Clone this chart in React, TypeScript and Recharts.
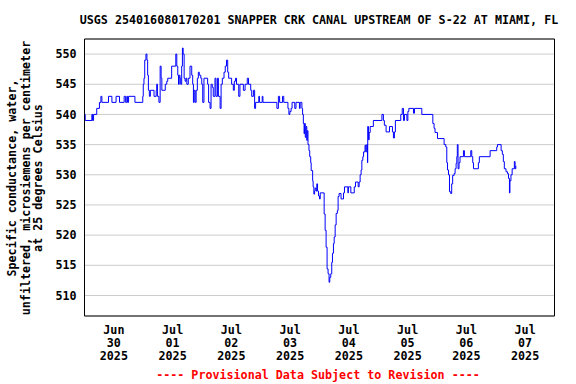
import React from "react";
import {
  LineChart,
  Line,
  XAxis,
  YAxis,
  CartesianGrid,
  ReferenceArea,
} from "recharts";

// Hours since Jun 30 2025 00:00 and specific conductance values (uS/cm)
const hours: number[] = [
  0, 0.3, 3.0, 3.3, 3.7, 5.0, 6.1, 6.7, 7.1, 9.8, 11.2, 12.9, 14.3, 16.2, 16.8, 17.3, 17.6, 18.0, 20.6, 23.8,
  24.0, 24.3, 24.6, 25.1, 25.5, 25.8, 26.1, 26.5, 26.9, 28.4, 29.3, 29.5, 29.8, 30.4, 30.9, 31.3, 31.6, 33.0, 33.6, 34.0,
  35.6, 37.0, 37.3, 37.7, 38.1, 38.4, 38.7, 39.0, 39.3, 39.7, 40.0, 40.3, 40.7, 41.1, 41.5, 41.8, 42.4, 43.1, 43.8, 44.2,
  44.5, 44.8, 45.2, 45.6, 46.1, 46.5, 46.9, 47.5, 47.9, 48.3, 48.8, 50.3, 50.7, 51.3, 51.7, 52.2, 52.6, 53.3, 53.7, 54.3,
  54.7, 55.4, 55.8, 56.3, 57.0, 57.5, 58.0, 58.5, 58.9, 60.1, 60.8, 61.2, 61.7, 62.1, 63.0, 63.5, 64.9, 65.6, 66.5, 67.0,
  67.9, 68.3, 69.0, 69.5, 69.9, 71.2, 71.5, 72.6, 72.9, 78.6, 79.2, 79.7, 80.9, 81.4, 83.1, 83.5, 83.9, 84.4, 84.8, 85.9,
  86.4, 87.8, 88.1, 88.8, 89.1, 89.4, 89.7, 89.9, 90.2, 90.5, 90.8, 91.0, 91.3, 91.7, 92.0, 92.4, 92.6, 93.2, 93.4, 93.7,
  94.0, 94.2, 94.6, 94.9, 95.2, 95.6, 96.0, 96.3, 97.9, 98.3, 98.7, 99.1, 99.5, 99.9, 100.2, 100.6, 101.0, 101.3, 101.7, 102.0,
  102.4, 102.8, 103.3, 103.6, 104.0, 104.8, 105.8, 106.2, 107.6, 107.8, 108.8, 110.2, 110.7, 111.8, 112.2, 112.6, 113.0, 113.3, 113.7, 114.0,
  114.6, 114.9, 115.3, 115.6, 115.7, 116.0, 116.3, 116.7, 118.0, 121.5, 122.1, 122.5, 123.2, 124.6, 125.8, 126.2, 126.6, 127.0, 129.2, 129.8,
  130.3, 130.7, 131.7, 132.1, 132.5, 134.4, 134.8, 137.8, 142.3, 142.8, 143.2, 144.2, 146.9, 147.6, 148.0, 148.3, 148.7, 149.1, 149.6, 150.0,
  150.4, 151.0, 151.4, 151.8, 152.1, 152.3, 152.6, 153.0, 153.4, 154.8, 155.2, 157.8, 158.2, 158.6, 158.9, 160.9, 161.3, 165.7, 168.4, 168.7,
  170.2, 170.7, 171.1, 171.5, 172.2, 172.8, 173.2, 173.6, 173.8, 174.2, 174.7, 175.6, 175.9, 176.2,
];

const conductance: number[] = [
  540, 539, 540, 539, 540, 541, 542, 543, 542, 543, 542, 543, 542, 543, 542, 543, 542, 543, 542, 543,
  545, 546, 549, 550, 549, 546.5, 544, 543, 544, 543, 544, 545, 543, 542, 548, 546, 544, 545, 545.5, 546,
  548, 548, 550, 548, 546.5, 545, 546.5, 546, 545, 548, 551, 550, 546, 545.5, 546, 545, 546, 548, 546.5, 545,
  542, 544, 542, 544, 546, 547, 546.5, 546, 545, 542, 546, 545, 542, 541, 545, 544.5, 543, 546, 543, 546,
  543, 541, 545, 546, 547, 548, 549, 547, 546, 545, 544, 545.5, 546, 545, 543, 545, 544, 545, 546, 545,
  544, 543, 544, 541, 542, 543, 542, 543, 542, 541, 543, 542, 543, 542, 541, 540, 540.5, 541, 542, 541,
  542, 541, 542, 541, 540, 538.5, 536.8, 538.5, 536.2, 538, 535.7, 537.3, 535, 534, 533, 532, 530.7, 529, 528, 526.8,
  527.3, 527.8, 527.3, 528.5, 527.3, 526.5, 526, 527, 523.5, 520.8, 518, 514.4, 513.6, 512.2, 513, 513.6, 515.5, 517, 518.6, 519.7,
  521.7, 523.6, 524.1, 526.4, 526.9, 526, 527, 528, 527, 528, 527, 528, 528.8, 528, 528.8, 530, 530.8, 532.4, 533, 533.8,
  534.9, 533.8, 535, 532, 538, 535.8, 537, 538, 539, 540, 539, 538.2, 537.1, 538, 537.1, 536.1, 537.1, 539, 540, 541,
  539, 540, 539, 540.5, 541, 540.2, 541, 540, 538.5, 537.7, 537, 536, 535, 534.6, 532, 530.8, 530, 527.2, 526.9, 528.5,
  529.9, 530.2, 531, 531.9, 533, 535, 531, 532, 533, 534, 533, 534, 533, 532, 531, 532, 533, 534, 534.6, 535,
  534, 533.4, 532.2, 531, 530.5, 530.2, 529.4, 527, 529, 530, 531, 532.2, 531, 531.5,
];

const yTicks: number[] = [510, 515, 520, 525, 530, 535, 540, 545, 550];
const gridHours: number[] = [24, 48, 72, 96, 120, 144, 168];
const labelHours: number[] = [12, 36, 60, 84, 108, 132, 156, 180];
const monthLabels: string[] = ["Jun", "Jul", "Jul", "Jul", "Jul", "Jul", "Jul", "Jul"];
const dayLabels: string[] = ["30", "01", "02", "03", "04", "05", "06", "07"];
const yearLabels: string[] = ["2025", "2025", "2025", "2025", "2025", "2025", "2025", "2025"];

const titleText = "USGS 254016080170201 SNAPPER CRK CANAL UPSTREAM OF S-22 AT MIAMI, FL";
const yLabelLines: string[] = [
  "Specific conductance, water,",
  "unfiltered, microsiemens per centimeter",
  "at 25 degrees Celsius",
];
const footerText = "---- Provisional Data Subject to Revision ----";

const X_DOMAIN: [number, number] = [0, 192];
const Y_DOMAIN: [number, number] = [506.6, 552.5];

const data = hours.map((h, i) => ({ h, v: conductance[i] }));

const FONT = "'DejaVu Sans Mono', 'Liberation Mono', monospace";
const FS = 11.7;

const DayTick = (props: any) => {
  const { x, y, payload } = props;
  const idx = labelHours.indexOf(payload.value);
  if (idx < 0) return null;
  const lines = [monthLabels[idx], dayLabels[idx], yearLabels[idx]];
  return (
    <text
      x={x}
      y={y}
      textAnchor="middle"
      fontFamily={FONT}
      fontWeight="bold"
      fontSize={FS}
      fill="#000"
    >
      {lines.map((l, i) => (
        <tspan key={i} x={x} y={y + 10 + i * 12.8}>
          {l}
        </tspan>
      ))}
    </text>
  );
};

export default function App() {
  return (
    <div style={{ position: "absolute", left: 0, top: 0, width: 576, height: 384, background: "#fff" }}>
      <LineChart
        width={576}
        height={384}
        data={data}
        margin={{ top: 39, right: 21.5, left: 24.5, bottom: 18 }}
      >
        <CartesianGrid
          xAxisId="grid"
          stroke="#cccccc"
          strokeWidth={1}
          vertical={true}
          horizontal={true}
        />
        <XAxis
          xAxisId="grid"
          type="number"
          dataKey="h"
          domain={X_DOMAIN}
          ticks={gridHours}
          tick={false}
          tickLine={false}
          axisLine={false}
          height={0}
          allowDataOverflow
        />
        <XAxis
          xAxisId="lbl"
          type="number"
          dataKey="h"
          domain={X_DOMAIN}
          ticks={labelHours}
          tick={<DayTick />}
          tickLine={false}
          axisLine={false}
          height={50}
          interval={0}
          allowDataOverflow
        />
        <YAxis
          type="number"
          domain={Y_DOMAIN}
          ticks={yTicks}
          tickLine={false}
          axisLine={false}
          width={60}
          interval={0}
          allowDataOverflow
          tick={{ fontFamily: FONT, fontWeight: "bold", fontSize: FS, fill: "#000" }}
        />
        <Line
          xAxisId="lbl"
          type="stepAfter"
          dataKey="v"
          stroke="#0000ff"
          strokeWidth={1}
          dot={false}
          isAnimationActive={false}
        />
        <ReferenceArea
          xAxisId="lbl"
          x1={X_DOMAIN[0]}
          x2={X_DOMAIN[1]}
          y1={Y_DOMAIN[0]}
          y2={Y_DOMAIN[1]}
          fill="none"
          fillOpacity={0}
          stroke="#000"
          strokeWidth={1}
          ifOverflow="visible"
        />
      </LineChart>
      <svg
        width={576}
        height={384}
        style={{ position: "absolute", left: 0, top: 0, pointerEvents: "none" }}
      >
        <text
          x={319}
          y={24}
          textAnchor="middle"
          fontFamily={FONT}
          fontWeight="bold"
          fontSize={FS}
          fill="#000"
        >
          {titleText}
        </text>
        {yLabelLines.map((l, i) => {
          const cx = [12, 25.5, 38][i];
          const cy = 178;
          return (
            <text
              key={i}
              x={cx}
              y={cy}
              transform={`rotate(-90 ${cx} ${cy})`}
              textAnchor="middle"
              dominantBaseline="central"
              fontFamily={FONT}
              fontWeight="bold"
              fontSize={FS}
              fill="#000"
            >
              {l}
            </text>
          );
        })}
        <text
          x={318}
          y={379}
          textAnchor="middle"
          fontFamily={FONT}
          fontWeight="bold"
          fontSize={FS}
          fill="#ff0000"
        >
          {footerText}
        </text>
      </svg>
    </div>
  );
}
